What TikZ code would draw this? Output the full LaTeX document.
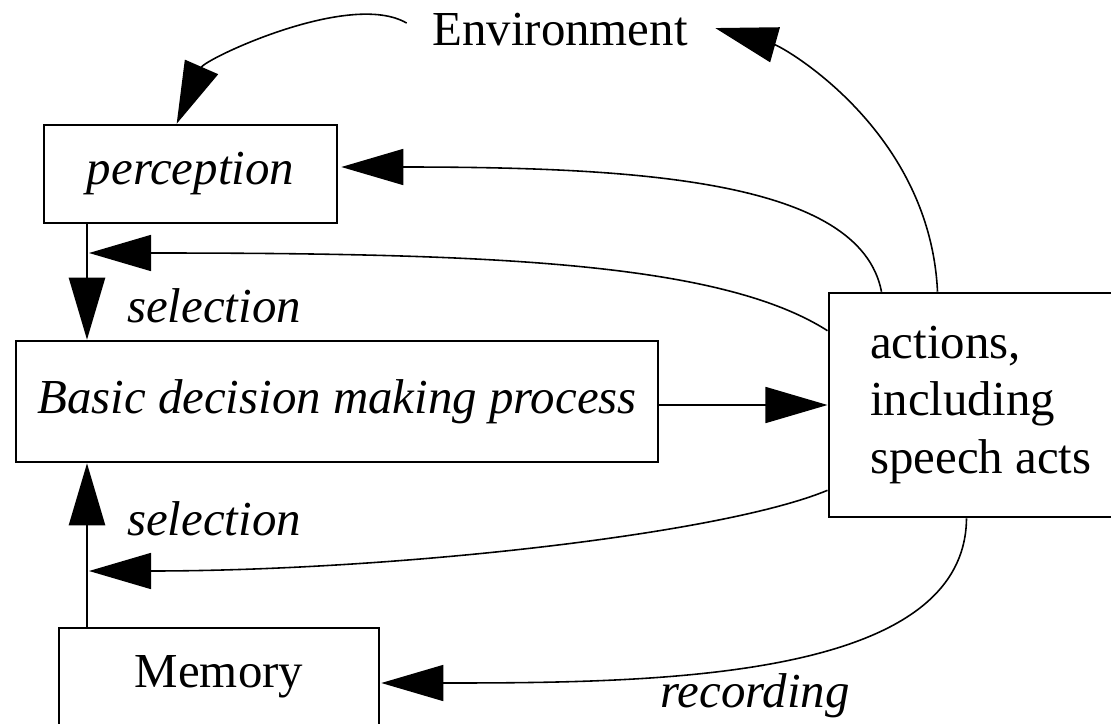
\documentclass[tikz,border=0pt]{standalone}
\usepackage{fontspec}
\setmainfont{Liberation Serif}
\usetikzlibrary{positioning,calc,arrows.meta}

\begin{document}
\begin{tikzpicture}[x=0.01cm, y=-0.01cm,
    font=\fontsize{13.9}{16.4}\selectfont,
    box/.style={draw, line width=0.7pt, inner sep=0pt},
    lbl/.style={font=\fontsize{13.9}{16.4}\selectfont\itshape, anchor=base, inner sep=0pt},
    arr/.style={-{Triangle[length=0.62cm,width=0.36cm]}, line width=0.45pt},
    vline/.style={arr, line width=0.7pt},
  ]
  \path[use as bounding box, fill=white] (0,0) rectangle (1111,724);

  \node[anchor=base, inner xsep=0.23cm] (env) at (560,45) {Environment};
  \node[box, minimum width=2.93cm, minimum height=0.98cm] (perc) at (190.5,174) {\itshape perception};
  \node[box, minimum width=6.42cm, minimum height=1.21cm] (basic) at (337,401.5) {\itshape Basic decision making process};
  \node[box, minimum width=3.04cm, minimum height=2.24cm, align=left,
        right=1.68cm of basic, yshift=-0.035cm] (actions) {actions,\\including\\speech acts};
  \node[box, minimum width=3.2cm, minimum height=0.98cm] (mem) at (219,677) {Memory};

  \coordinate (selA) at (87,253);
  \coordinate (selB) at (87,571);

  \node[lbl] (selAlabel) at (214,322) {selection};
  \node[lbl] (selBlabel) at (214,535) {selection};
  \node[lbl] (reclabel) at (755,707) {recording};

  % environment and perception
  \draw[arr] ($(env.west)+(-2,-6)$) .. controls (350,-10) and (205,59) .. ($(perc.north west)+(134,0)$);
  \draw[arr] ($(actions.north west)+(110,0)$) .. controls (930,130) and (783,47) .. ($(env.east)+(4,-1)$);
  \draw[arr] ($(actions.north west)+(54,0)$) .. controls (860,180) and (638,167) .. ($(perc.east)+(3,-7)$);

  % selection into the decision process
  \draw[vline] (perc.south -| selA) -- (basic.north -| selA);
  \draw[arr] ($(actions.north west)+(0,39)$) .. controls (720,262) and (488,253) .. ($(selA)+(2,0)$);
  \draw[vline] (mem.north -| selB) -- (basic.south -| selB);
  \draw[arr] ($(actions.south west)+(0,-28)$) .. controls (720,535) and (388,571) .. ($(selB)+(2,0)$);

  \draw[arr] (basic.east |- actions.west) -- (actions.west);

  % recording
  \draw[arr] ($(actions.south west)+(139,0)$) .. controls (965,680) and (657,683) .. ($(mem.east)+(1,6)$);
\end{tikzpicture}
\end{document}
